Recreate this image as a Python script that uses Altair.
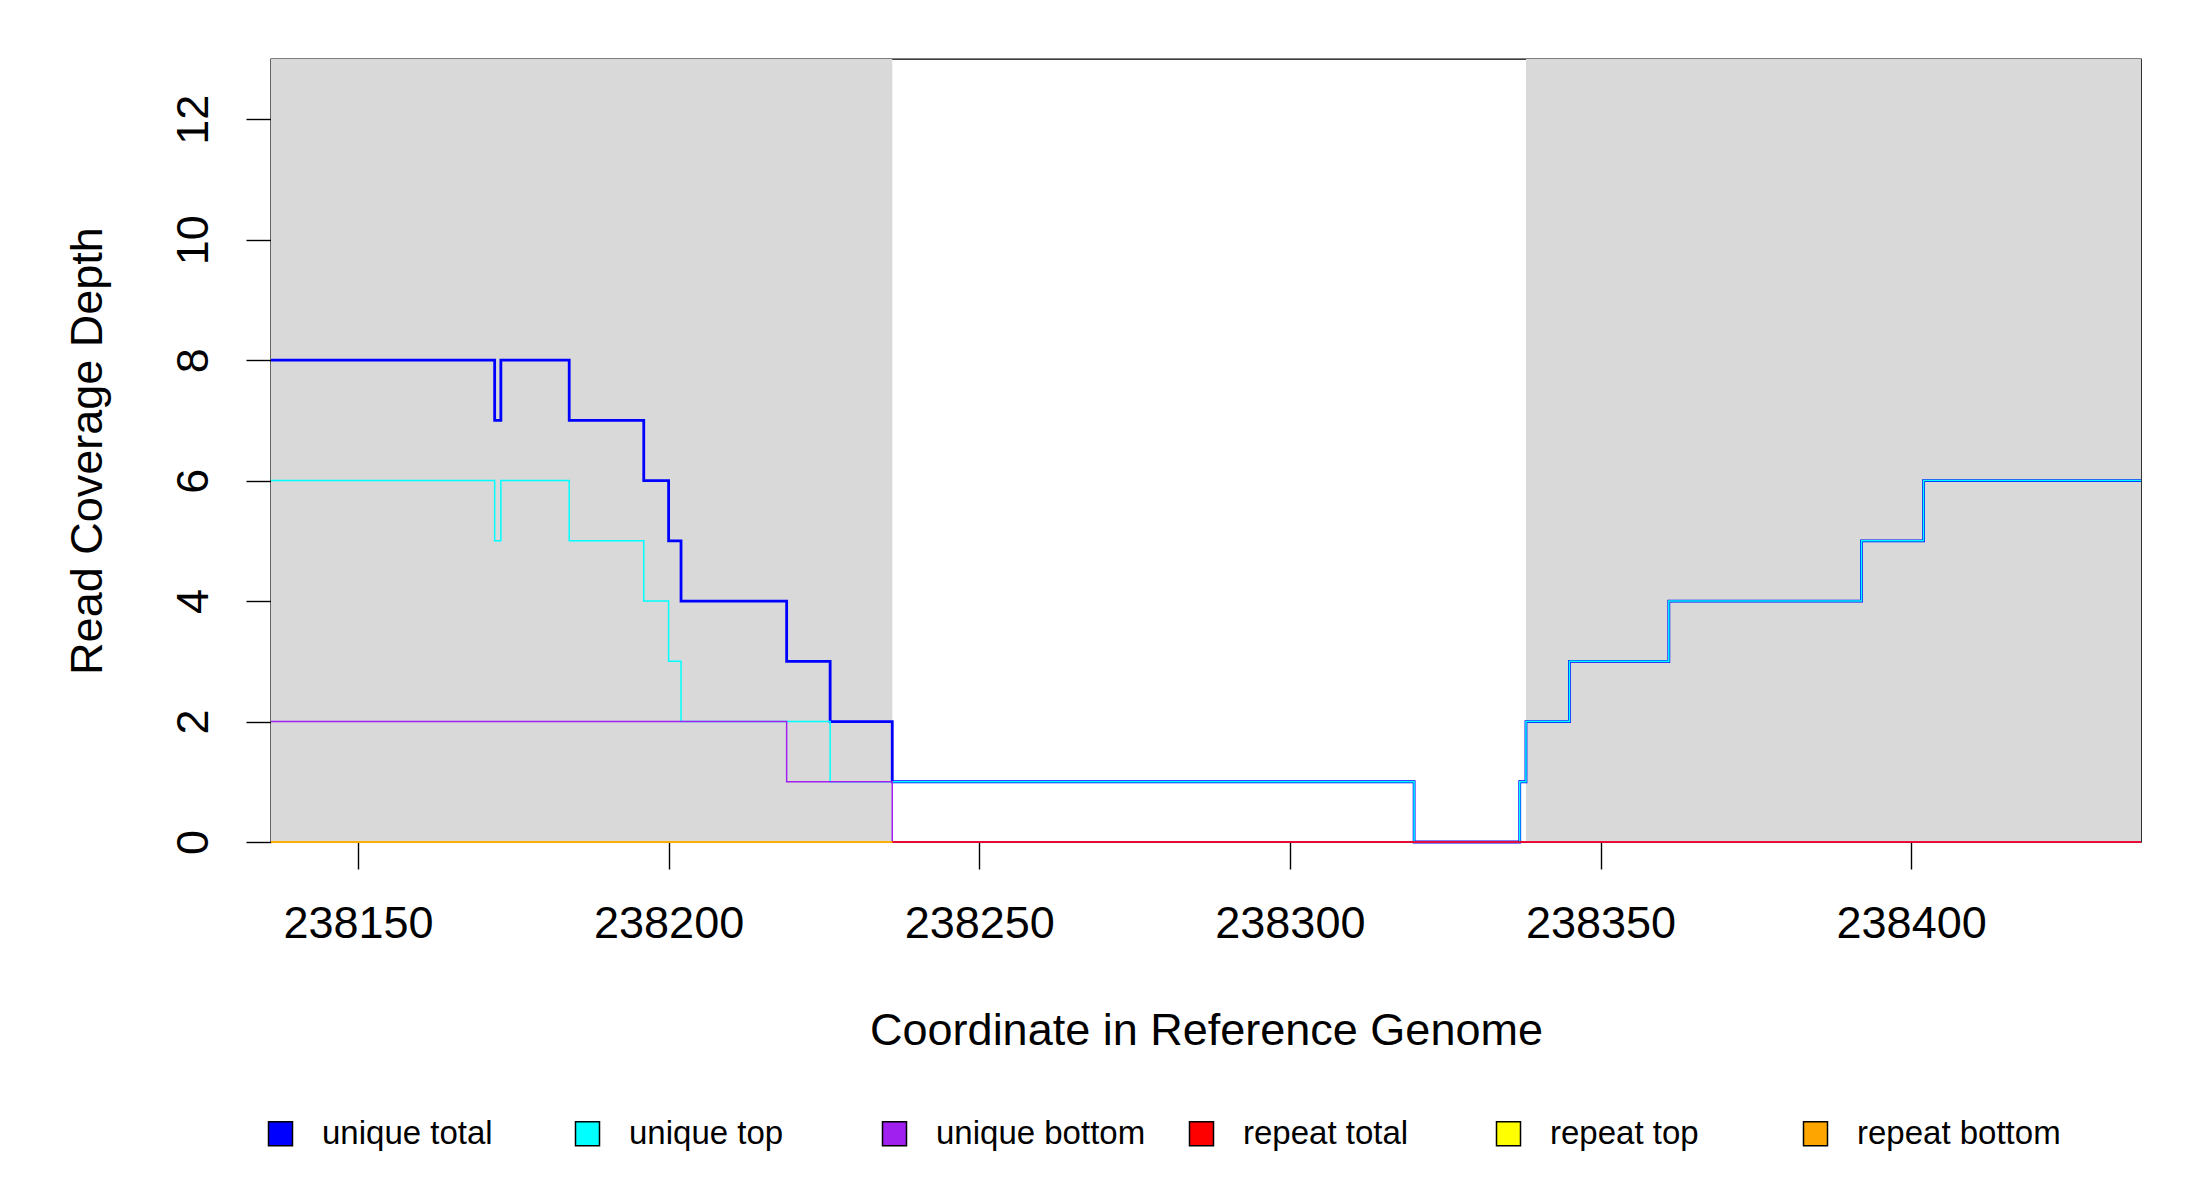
import altair as alt
import pandas as pd

# ---------------- data ----------------
X_DOMAIN = [238136, 238437]
Y_DOMAIN = [0, 13]
x_ticks = [238150, 238200, 238250, 238300, 238350, 238400]
y_ticks = [0, 2, 4, 6, 8, 10, 12]

region_start = [238136, 238338]
region_end = [238236, 238437]

series_names = ["unique total", "unique top", "unique bottom",
                "repeat total", "repeat top", "repeat bottom"]
series_colors = ["#0000FF", "#00FFFF", "#A020F0", "#FF0000", "#FFFF00", "#FFA500"]
series_widths = [2.8, 1.5, 1.5, 1.6, 1.5, 1.5]

unique_total_x = [238136, 238172, 238173, 238184, 238196, 238200, 238202, 238219, 238226,
                  238236, 238320, 238337, 238338, 238345, 238361, 238392, 238402, 238437]
unique_total_y = [8, 7, 8, 7, 6, 5, 4, 3, 2, 1, 0, 1, 2, 3, 4, 5, 6, 6]

unique_top_x = [238136, 238172, 238173, 238184, 238196, 238200, 238202, 238226,
                238320, 238337, 238338, 238345, 238361, 238392, 238402, 238437]
unique_top_y = [6, 5, 6, 5, 4, 3, 2, 1, 0, 1, 2, 3, 4, 5, 6, 6]

unique_bottom_x = [238136, 238219, 238236, 238437]
unique_bottom_y = [2, 1, 0, 0]

repeat_total_x = [238136, 238437]
repeat_total_y = [0, 0]

repeat_top_x = [238136, 238236]
repeat_top_y = [0, 0]

repeat_bottom_x = [238136, 238236]
repeat_bottom_y = [0, 0]

series_x = [unique_total_x, unique_top_x, unique_bottom_x,
            repeat_total_x, repeat_top_x, repeat_bottom_x]
series_y = [unique_total_y, unique_top_y, unique_bottom_y,
            repeat_total_y, repeat_top_y, repeat_bottom_y]

# ---------------- chart ----------------
FONT = "Liberation Sans"
W, H = 1870, 783

xscale = alt.Scale(domain=X_DOMAIN, nice=False, zero=False)
yscale = alt.Scale(domain=Y_DOMAIN, nice=False)

xaxis = alt.Axis(values=x_ticks, format="d", grid=False, domain=False,
                 tickSize=27, tickWidth=1.4, tickColor="black",
                 labelFontSize=45, labelFont=FONT, labelColor="black",
                 labelPadding=32, labelFlush=False,
                 title="Coordinate in Reference Genome",
                 titleFontSize=45, titleFont=FONT, titleFontWeight="normal",
                 titleColor="black", titleBaseline="alphabetic",
                 titleY=202, titleX=W / 2, titleAlign="center")
yaxis = alt.Axis(values=y_ticks, grid=False, domain=False,
                 tickSize=25, tickWidth=1.4, tickColor="black",
                 labelFontSize=45, labelFont=FONT, labelColor="black",
                 labelAngle=270, labelAlign="center", labelBaseline="bottom",
                 labelPadding=30, labelFlush=False,
                 title="Read Coverage Depth",
                 titleFontSize=45, titleFont=FONT, titleFontWeight="normal",
                 titleColor="black", titleAngle=270, titleBaseline="alphabetic",
                 titleAlign="center", titleX=-170, titleY=H / 2)

regions = pd.DataFrame({
    "start": region_start,
    "end": region_end,
    "y0": [Y_DOMAIN[0]] * len(region_start),
    "y1": [Y_DOMAIN[1]] * len(region_start),
})

rect = alt.Chart(regions).mark_rect(color="#D9D9D9").encode(
    x=alt.X("start:Q", scale=xscale, axis=xaxis),
    x2="end:Q",
    y=alt.Y("y0:Q", scale=yscale, axis=yaxis),
    y2="y1:Q",
)

layers = [rect]
frames = []
for name, xs, ys, col, w in zip(series_names, series_x, series_y, series_colors, series_widths):
    df = pd.DataFrame({"pos": xs, "depth": ys, "series": name})
    frames.append(df)
    layers.append(
        alt.Chart(df).mark_line(interpolate="step-after", strokeWidth=w,
                                color=col, strokeCap="butt", strokeJoin="miter").encode(
            x=alt.X("pos:Q", scale=xscale, axis=xaxis),
            y=alt.Y("depth:Q", scale=yscale, axis=yaxis),
        )
    )

all_df = pd.concat(frames, ignore_index=True)
legend_layer = alt.Chart(all_df).transform_filter("false").mark_square(
    stroke="black", strokeWidth=1.5, opacity=1
).encode(
    fill=alt.Fill("series:N",
                  scale=alt.Scale(domain=series_names, range=series_colors),
                  sort=series_names,
                  legend=alt.Legend(
                      orient="none", legendX=-7, legendY=1058,
                      direction="horizontal", columns=6, columnPadding=39,
                      gridAlign="all", title=None, padding=0,
                      symbolType="square", symbolSize=576,
                      symbolStrokeColor="black", symbolStrokeWidth=1.5,
                      labelFontSize=33, labelFont=FONT, labelColor="black",
                      labelOffset=25, labelLimit=0,
                  )),
)
layers.append(legend_layer)

chart = alt.layer(*layers).properties(
    width=W, height=H,
    padding={"left": 263, "top": 51, "right": 51, "bottom": 350},
    autosize=alt.AutoSizeParams(type="none"),
    background="white",
).configure_view(stroke="black", strokeWidth=1.4)

chart.save("out.html", embed_options={"renderer": "svg", "actions": False})
